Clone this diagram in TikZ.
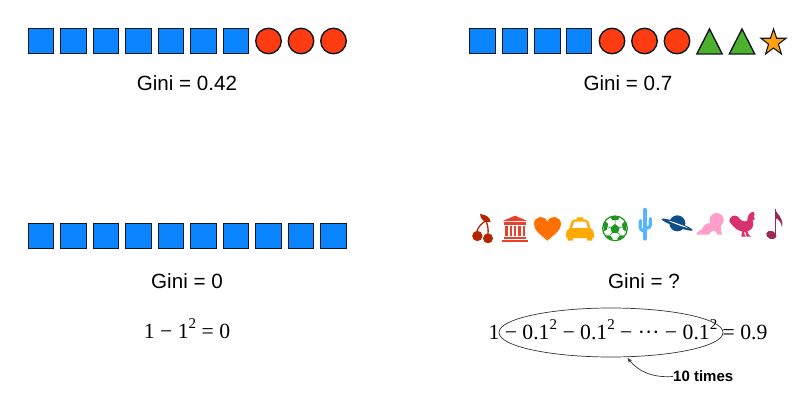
\documentclass[tikz,border=0pt]{standalone}
\usepackage{fontspec}
\setmainfont{Liberation Sans}
\newfontfamily\mathserif{Liberation Serif}
\usetikzlibrary{shapes.geometric,arrows.meta}
\definecolor{sqblue}{RGB}{10,132,255}
\definecolor{cired}{RGB}{255,59,18}
\definecolor{trgreen}{RGB}{76,178,44}
\definecolor{storange}{RGB}{255,160,16}
\definecolor{edgedark}{RGB}{18,24,32}
\definecolor{cherryc}{RGB}{178,38,0}
\definecolor{templec}{RGB}{232,64,42}
\definecolor{heartc}{RGB}{255,112,0}
\definecolor{taxic}{RGB}{255,170,0}
\definecolor{ballg}{RGB}{28,150,28}
\definecolor{cact}{RGB}{85,181,255}
\definecolor{plan}{RGB}{15,76,138}
\definecolor{babyc}{RGB}{255,158,200}
\definecolor{roosterc}{RGB}{217,48,110}
\definecolor{notec}{RGB}{155,42,85}
\newcommand{\supt}{\raisebox{0.42em}{\fontsize{15}{15}\selectfont 2}}
\tikzset{
  shapeedge/.style={draw=edgedark,line width=1.4pt},
  sq/.style={shapeedge,fill=sqblue,rectangle,minimum size=25.5pt,inner sep=0pt},
  ci/.style={shapeedge,fill=cired,circle,minimum size=25.5pt,inner sep=0pt},
  gini/.style={font=\fontsize{20.6}{24}\selectfont,inner sep=0pt},
  formula/.style={font=\mathserif\fontsize{21.7}{25}\selectfont,inner sep=0pt},
  icon/.style={shift={(460,200)},scale=1/3},
}
\begin{document}
\begin{tikzpicture}[x=1pt,y=-1pt]
\useasboundingbox (0,0) rectangle (793,404);
% top-left
\foreach \i/\x in {1/41,2/73.5,3/106,4/138.5,5/171,6/203.5,7/236}
  \node[sq] (a\i) at (\x,41) {};
\foreach \i/\x in {1/268.5,2/301,3/333.5}
  \node[ci] (b\i) at (\x,41) {};
\node[gini] (g1) at (187,83) {Gini = 0.42};
% top-right
\foreach \i/\x in {1/482.5,2/515,3/547.5,4/579}
  \node[sq] (c\i) at (\x,41) {};
\foreach \i/\x in {1/612,2/644.5,3/677}
  \node[ci] (d\i) at (\x,41) {};
\foreach \x in {709.5,742}
  \draw[shapeedge,line join=miter,fill=trgreen] (\x,29) -- (\x+12.7,54) -- (\x-12.7,54) -- cycle;
\draw[draw=edgedark,line width=1.1pt,fill=storange,line join=miter]
  (773.5,29) -- (776.6,38.3) -- (786,38.3) -- (778.4,44.2) -- (781.4,54) -- (773.5,48) -- (765.6,54) -- (768.6,44.2) -- (761,38.3) -- (770.4,38.3) -- cycle;
\node[gini] (g2) at (628,83) {Gini = 0.7};
% bottom-left
\foreach \i/\x in {1/41,2/73.5,3/106,4/138.5,5/171,6/203.5,7/236,8/268.5,9/301,10/333.5}
  \node[sq] (e\i) at (\x,236) {};
\node[gini] (g3) at (187,281) {Gini = 0};
\node[formula,anchor=base] (f1) at (187,338) {1 − 1\supt{} = 0};
% bottom-right
\node[gini] (g4) at (644,281) {Gini = ?};
\node[formula,anchor=base] (f2) at (628,339) {1 − 0.1\supt{} − 0.1\supt{} − ··· − 0.1\supt{} = 0.9};
\node[draw=black!80,line width=0.7pt,ellipse,minimum width=224pt,minimum height=49pt,inner sep=0pt] (ell) at (611,332.5) {};
\node[font=\fontsize{15}{18}\selectfont\bfseries,inner sep=0pt,anchor=west] (lbl) at (673,376.5) {10 times};
\coordinate (tip) at (627.5,358);
\draw[-{Stealth[length=5pt,width=4pt]},black!80,line width=0.7pt] (lbl.west) .. controls (652,378) and (638,371) .. (tip);
% cherries
\begin{scope}[icon]
\fill[cherryc] (52,108) circle (15.5) (84,115) circle (15);
\draw[cherryc,line width=1.3pt] (50,96) .. controls (55,78) and (68,68) .. (78,62) (84,102) .. controls (86,88) and (82,72) .. (78,62);
\fill[cherryc] (60,42) .. controls (76,44) and (90,50) .. (92,66) .. controls (76,68) and (60,60) .. (60,42) -- cycle;
\end{scope}
% temple
\begin{scope}[icon]
\fill[templec] (165,47) -- (202,63) -- (128,63) -- cycle;
\fill[templec] (133,67) rectangle (198,75);
\foreach \x in {136,149,162,175,188} \fill[templec] (\x,78) rectangle (\x+7,108);
\fill[templec] (132,110) rectangle (198,116);
\fill[templec] (126,119) rectangle (204,125);
\end{scope}
% heart
\begin{scope}[icon]
\fill[heartc] (262,122) .. controls (240,102) and (222,92) .. (222,72) .. controls (222,48) and (254,42) .. (262,66) .. controls (270,42) and (303,48) .. (303,72) .. controls (303,92) and (284,102) .. (262,122) -- cycle;
\end{scope}
% taxi
\begin{scope}[icon]
\fill[even odd rule,taxic]
 (350,52) -- (370,52) -- (370,58) .. controls (382,58) and (386,62) .. (388,72) -- (391,84) .. controls (398,88) and (402,94) .. (402,102) -- (402,112) -- (397,114) -- (397,122) -- (381,122) -- (381,114) -- (339,114) -- (339,122) -- (323,122) -- (323,114) -- (318,112) -- (318,102) .. controls (318,94) and (322,88) .. (329,84) -- (332,72) .. controls (334,62) and (338,58) .. (350,58) -- cycle
 (342,65) -- (378,65) -- (384,84) -- (336,84) -- cycle;
\end{scope}
% ball
\begin{scope}[icon]
\draw[draw=ballg,line width=1.2pt,fill=white] (465,85) circle (37);
\fill[ballg] (465,72) -- (479,83) -- (474,99) -- (456,99) -- (451,83) -- cycle;
\fill[ballg] (465,48) -- (452,52) -- (456,60) -- (474,60) -- (478,52) -- cycle;
\fill[ballg] (430,78) -- (436,64) -- (444,72) -- (441,88) -- (433,94) -- cycle;
\fill[ballg] (500,78) -- (494,64) -- (486,72) -- (489,88) -- (497,94) -- cycle;
\fill[ballg] (444,116) -- (438,106) -- (450,106) -- (458,116) -- (456,121) -- cycle;
\fill[ballg] (486,116) -- (492,106) -- (480,106) -- (472,116) -- (474,121) -- cycle;
\draw[ballg,line width=0.5pt] (465,72) -- (465,60) (479,83) -- (489,80) (451,83) -- (441,80) (474,99) -- (480,106) (456,99) -- (450,106);
\end{scope}
% cactus
\begin{scope}[icon]
\draw[cact,line width=4.6pt,line cap=round] (555,30) -- (555,115);
\draw[cact,line width=3.2pt,line cap=round,rounded corners=3pt] (555,92) -- (541,92) -- (541,62);
\draw[cact,line width=3.2pt,line cap=round,rounded corners=3pt] (555,84) -- (571,84) -- (571,56);
\end{scope}
% planet
\begin{scope}[icon]
\fill[plan] (652,70) circle (24);
\fill[plan,rotate around={-20:(652,72)}] (652,74) ellipse (50 and 7);
\fill[white,rotate around={-20:(652,72)}] (655,72) ellipse (30 and 1.8);
\end{scope}
% baby
\begin{scope}[icon]
\fill[babyc] (770,60) circle (21);
\fill[babyc] (708,104) .. controls (712,96) and (718,90) .. (726,88) .. controls (730,72) and (746,66) .. (762,70) -- (782,76) .. controls (784,88) and (782,96) .. (786,104) -- (772,104) .. controls (770,98) and (768,94) .. (762,92) .. controls (754,92) and (750,98) .. (746,104) -- cycle;
\end{scope}
% rooster
\begin{scope}[icon]
\fill[roosterc] (808,64) .. controls (808,50) and (822,42) .. (834,50) .. controls (842,62) and (852,68) .. (862,62) .. controls (862,50) and (866,38) .. (880,35) -- (884,42) -- (881,50) -- (885,58) -- (878,60) .. controls (884,78) and (876,90) .. (862,94) -- (866,104) -- (874,110) -- (860,110) -- (856,96) -- (852,96) -- (854,104) -- (858,110) -- (844,110) -- (846,94) .. controls (832,92) and (820,82) .. (808,64) -- cycle;
\end{scope}
% note
\begin{scope}[icon]
\fill[notec,rotate around={-20:(934,105)}] (934,105) ellipse (16 and 12);
\draw[notec,line width=1.6pt] (946,104) -- (946,28);
\fill[notec] (945,27) .. controls (950,44) and (972,50) .. (966,82) .. controls (964,66) and (956,58) .. (945,54) -- cycle;
\end{scope}
\end{tikzpicture}
\end{document}
